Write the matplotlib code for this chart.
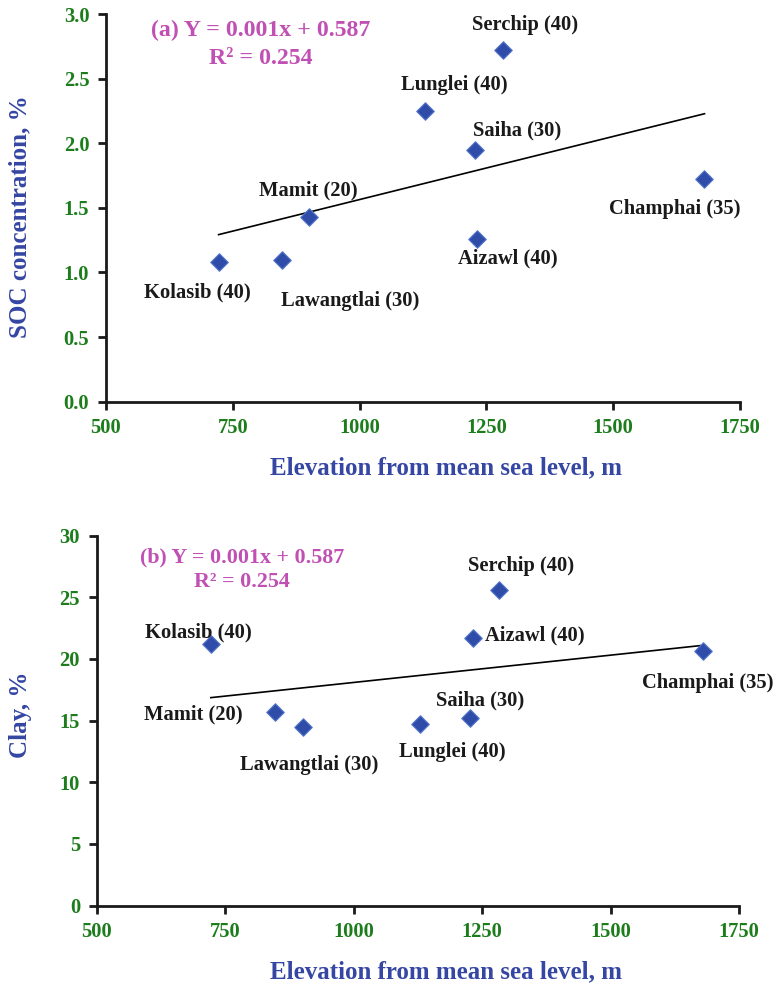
import matplotlib
matplotlib.use("Agg")
import matplotlib.pyplot as plt
import numpy as np

# data
districts = ["Kolasib (40)", "Lawangtlai (30)", "Mamit (20)", "Lunglei (40)",
             "Saiha (30)", "Aizawl (40)", "Serchip (40)", "Champhai (35)"]
elev_soc = [722, 847, 901, 1129, 1227, 1232, 1282, 1680]
soc = [1.08, 1.10, 1.43, 2.25, 1.95, 1.26, 2.72, 1.72]

bottom_names = ["Kolasib (40)", "Mamit (20)", "Lawangtlai (30)", "Lunglei (40)",
                "Saiha (30)", "Aizawl (40)", "Serchip (40)", "Champhai (35)"]
elev_clay = [722, 847, 901, 1129, 1227, 1232, 1282, 1680]
clay = [21.2, 15.7, 14.5, 14.7, 15.2, 21.7, 25.6, 20.6]

eq_a = ["(a) Y = 0.001x + 0.587", "R\u00b2 = 0.254"]
eq_b = ["(b) Y = 0.001x + 0.587", "R\u00b2 = 0.254"]

# label offsets in pixels (dx, dy), y up
off_a = [(-21, -30), (68, -41), (-1, 26), (29, 26), (42, 19), (31, -20), (22, 25), (-30, -30)]
off_b = [(-12, 12), (-82, -3), (6, -38), (32, -28), (10, 18), (62, 2), (22, 24), (4, -32)]

plt.rcParams['font.family'] = ['Liberation Serif', 'DejaVu Serif']
plt.rcParams['font.weight'] = 'bold'

W, H = 775, 983
fig = plt.figure(figsize=(W / 100, H / 100), dpi=100)

green = "#1d7d1d"
blue = "#3546a3"
pink = "#c050b4"


def px(x0, y0, x1, y1):
    return [x0 / W, 1 - y1 / H, (x1 - x0) / W, (y1 - y0) / H]


def panel(rect, x, y, names, offs, ylim, yticks, yfmt):
    ax = fig.add_axes(rect)
    ax.scatter(x, y, marker="D", s=80, color="#2f4da8", edgecolors="#5577cc",
               linewidths=0.8, zorder=3)
    k, b = np.polyfit(x, y, 1)
    xx = np.array([min(x), max(x)])
    ax.plot(xx, k * xx + b, color="black", lw=1.2, zorder=2)
    for n, xi, yi, o in zip(names, x, y, offs):
        ax.annotate(n, (xi, yi), xytext=o, textcoords="offset pixels",
                    ha="center", va="center", fontsize=14.8, fontweight="bold",
                    color="#1a1a1a")
    ax.set_xlim(500, 1750)
    ax.set_ylim(*ylim)
    ax.set_xticks([500, 750, 1000, 1250, 1500, 1750])
    ax.set_yticks(yticks)
    ax.set_yticklabels([yfmt.format(v) for v in yticks])
    for s in ["top", "right"]:
        ax.spines[s].set_visible(False)
    for s in ["left", "bottom"]:
        ax.spines[s].set_linewidth(2)
        ax.spines[s].set_color("#1a1a1a")
    ax.tick_params(direction="out", length=6, width=2, color="#1a1a1a",
                   labelcolor=green, labelsize=14.8, pad=6)
    for t in ax.get_xticklabels() + ax.get_yticklabels():
        t.set_fontweight("bold")
    return ax


ax1 = panel(px(106, 14, 740, 401.7), elev_soc, soc, districts, off_a,
            (0, 3.0), [0, 0.5, 1.0, 1.5, 2.0, 2.5, 3.0], "{:.1f}")
ax2 = panel(px(96.7, 535.5, 739.3, 905.5), elev_clay, clay, bottom_names, off_b,
            (0, 30), [0, 5, 10, 15, 20, 25, 30], "{:.0f}")

fig.text(261 / W, 1 - 30.7 / H, eq_a[0], color=pink, fontsize=17.2,
         fontweight="bold", ha="center", va="center")
fig.text(261 / W, 1 - 58.3 / H, eq_a[1], color=pink, fontsize=17.2,
         fontweight="bold", ha="center", va="center")
fig.text(242 / W, 1 - 557.3 / H, eq_b[0], color=pink, fontsize=15.8,
         fontweight="bold", ha="center", va="center")
fig.text(242 / W, 1 - 581.7 / H, eq_b[1], color=pink, fontsize=15.8,
         fontweight="bold", ha="center", va="center")

fig.text(446 / W, 1 - 468 / H, "Elevation from mean sea level, m", color=blue,
         fontsize=18, fontweight="bold", ha="center", va="center")
fig.text(446 / W, 1 - 971.7 / H, "Elevation from mean sea level, m", color=blue,
         fontsize=18, fontweight="bold", ha="center", va="center")
fig.text(20 / W, 1 - 217 / H, "SOC concentration, %", color=blue, fontsize=18,
         fontweight="bold", ha="center", va="center", rotation=90)
fig.text(20 / W, 1 - 715 / H, "Clay, %", color=blue, fontsize=18,
         fontweight="bold", ha="center", va="center", rotation=90)

fig.savefig("out.png", dpi=100)
